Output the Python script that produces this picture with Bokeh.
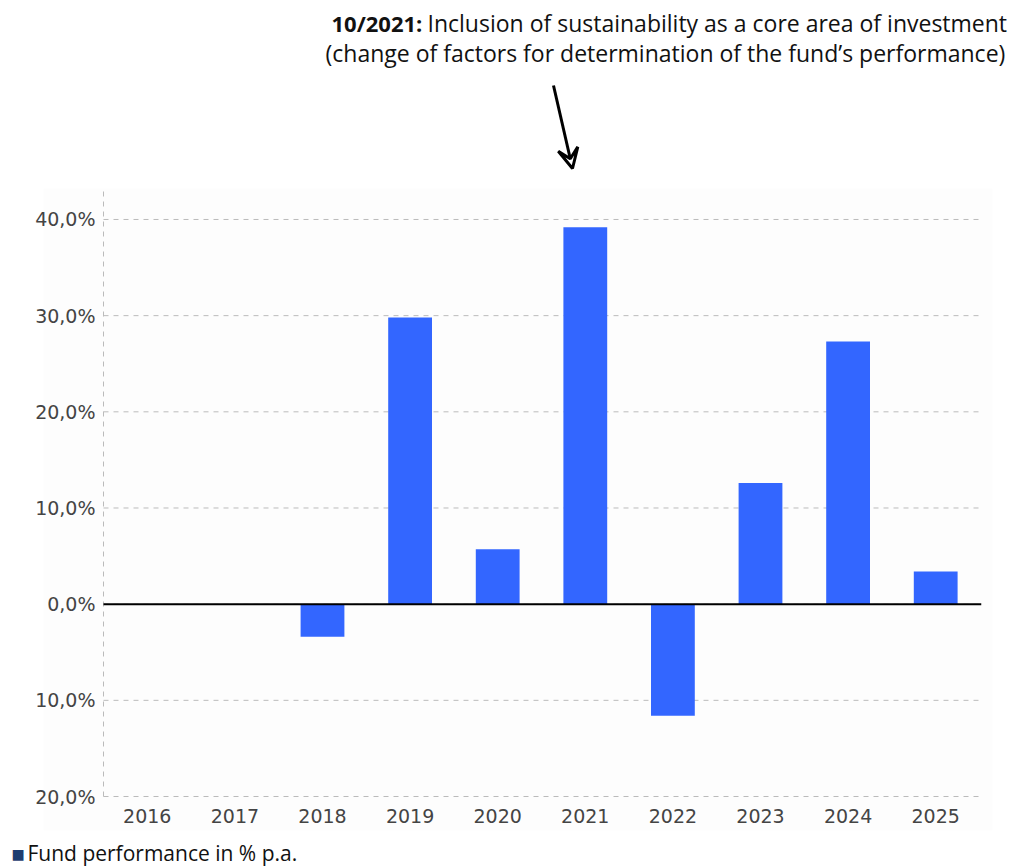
from bokeh.plotting import figure
from bokeh.models import Range1d, FixedTicker, Label, Arrow, VeeHead, ColumnDataSource
from bokeh.embed import file_html
from bokeh.resources import INLINE

# ---- data ----
years = ["2016", "2017", "2018", "2019", "2020", "2021", "2022", "2023", "2024", "2025"]
performance = [0.0, 0.0, -3.4, 29.8, 5.7, 39.2, -11.6, 12.6, 27.3, 3.4]
y_ticks = [-20, -10, 0, 10, 20, 30, 40]
y_tick_labels = ["20,0%", "10,0%", "0,0%", "10,0%", "20,0%", "30,0%", "40,0%"]
legend_label = "Fund performance in % p.a."
note_bold = "10/2021:"
note_line1 = "Inclusion of sustainability as a core area of investment"
note_line2 = "(change of factors for determination of the fund\u2019s performance)"

# ---- layout (frame covers the whole canvas; axes drawn at fixed locations) ----
W, H = 1014, 868
n = len(years)
PLOT_LEFT_PX = 103.0      # pixel of x = -0.5
PX_PER_CAT = 87.6
PLOT_BOTTOM_PX = 796.0    # pixel of y = -20
PX_PER_UNIT = 9.617
Y_MIN = min(y_ticks)

X0 = -0.5 - PLOT_LEFT_PX / PX_PER_CAT
X1 = X0 + W / PX_PER_CAT
Y0 = Y_MIN - (H - PLOT_BOTTOM_PX) / PX_PER_UNIT
Y1 = Y0 + H / PX_PER_UNIT

def xd(px):
    return X0 + px / PX_PER_CAT

def yd(py):
    return Y0 + (H - py) / PX_PER_UNIT

p = figure(width=W, height=H, output_backend="svg", toolbar_location=None,
           x_range=Range1d(X0, X1), y_range=Range1d(Y0, Y1),
           min_border_left=0, min_border_right=0, min_border_top=0, min_border_bottom=0)
p.outline_line_color = None
p.background_fill_color = "white"
p.border_fill_color = "white"
p.grid.visible = False

# faint chart-area background
p.quad(left=[xd(43)], right=[xd(992)], bottom=[yd(830)], top=[yd(188)],
       fill_color="#fdfdfd", line_color=None)

GRID_C = "#bbbbbb"
# horizontal dashed grid lines
gsrc = ColumnDataSource(dict(y=y_ticks, x0=[-0.5] * len(y_ticks), x1=[n - 0.5] * len(y_ticks)))
p.segment(x0="x0", y0="y", x1="x1", y1="y", source=gsrc, line_color=GRID_C,
          line_dash="5 5", line_width=1)
# left dashed vertical line
p.segment(x0=[-0.5], y0=[Y_MIN], x1=[-0.5], y1=[yd(188)], line_color=GRID_C,
          line_dash="5 5", line_width=1)

# bars
src = ColumnDataSource(dict(x=list(range(n)), top=performance))
p.vbar(x="x", top="top", width=0.5, source=src, fill_color="#3366ff", line_color=None)

# zero line
p.segment(x0=[-0.5], y0=[0], x1=[n - 0.5 + 0.02], y1=[0], line_color="black", line_width=2)

# axes (fixed inside the frame)
p.yaxis.fixed_location = -0.5
p.xaxis.fixed_location = Y_MIN
p.yaxis.ticker = FixedTicker(ticks=y_ticks)
p.yaxis.major_label_overrides = {t: l for t, l in zip(y_ticks, y_tick_labels)}
p.xaxis.ticker = FixedTicker(ticks=list(range(n)))
p.xaxis.major_label_overrides = {i: y for i, y in enumerate(years)}
for ax in (p.xaxis[0], p.yaxis[0]):
    ax.axis_line_color = None
    ax.major_tick_line_color = None
    ax.minor_tick_line_color = None
    ax.major_label_text_font = "DejaVu Sans"
    ax.major_label_text_font_size = "19px"
    ax.major_label_text_color = "#444444"
p.xaxis.major_label_standoff = 6
p.yaxis.major_label_standoff = 2

# annotation text
font = "Open Sans"
p.add_layout(Label(x=xd(331), y=yd(22), text=note_bold, text_font=font, text_font_style="bold",
                   text_font_size="22px", text_baseline="middle", text_align="left", text_color="#111111"))
p.add_layout(Label(x=xd(427), y=yd(22), text=note_line1, text_font=font,
                   text_font_size="23px", text_baseline="middle", text_align="left", text_color="#111111"))
p.add_layout(Label(x=xd(325), y=yd(52), text=note_line2, text_font=font,
                   text_font_size="23px", text_baseline="middle", text_align="left", text_color="#111111"))

# arrow
p.add_layout(Arrow(x_start=xd(553), y_start=yd(85), x_end=xd(572), y_end=yd(168),
                   line_color="black", line_width=3,
                   end=VeeHead(size=20, line_color="black", line_width=3, fill_color=None)))

# legend
p.add_layout(Label(x=xd(11), y=yd(853), text="\u25A0", text_font="DejaVu Sans", text_font_size="14px",
                   text_baseline="middle", text_align="left", text_color="#1f3d6f"))
p.add_layout(Label(x=xd(27), y=yd(852), text=legend_label, text_font=font, text_font_size="21px",
                   text_baseline="middle", text_align="left", text_color="#111111"))

open("out.html", "w").write(file_html(p, INLINE))
